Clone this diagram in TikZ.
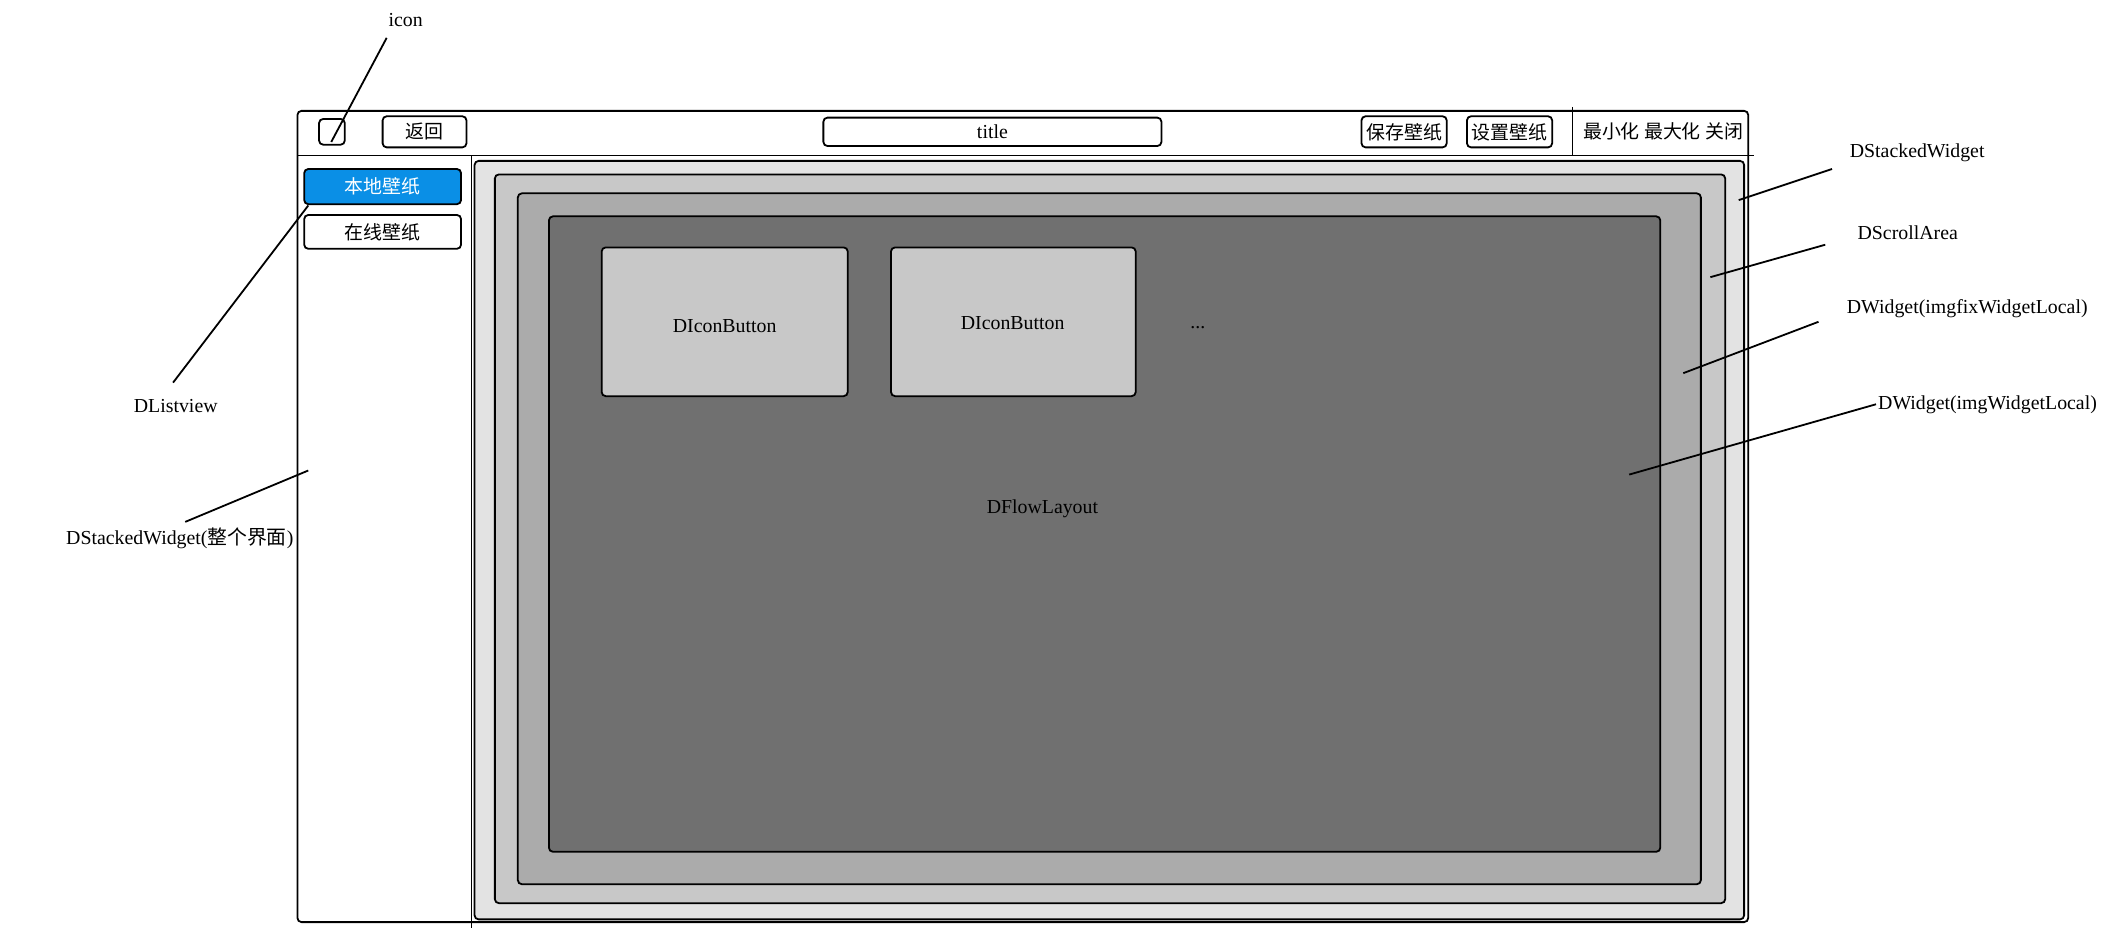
\documentclass[tikz,border=0pt]{standalone}
\usepackage{fontspec}
\setmainfont{Liberation Serif}
\newfontfamily\cjk{Noto Sans CJK SC}
\usetikzlibrary{fit}
\definecolor{bluebtn}{HTML}{0A8FE6}
\definecolor{gA}{HTML}{E3E3E3}
\definecolor{gB}{HTML}{C8C8C8}
\definecolor{gC}{HTML}{ABABAB}
\definecolor{gD}{HTML}{707070}
\begin{document}
\begin{tikzpicture}[x=0.75pt,y=-0.75pt,
  box/.style={draw, line width=1pt, rounded corners=2.25pt, inner sep=0pt},
  lbl/.style={font=\fontsize{11}{13}\selectfont, inner sep=1pt},
  lead/.style={line width=1pt},
  thin/.style={line width=0.6pt},
  cjkt/.style={font=\cjk\fontsize{10.5}{12}\selectfont, inner sep=0pt}]
\useasboundingbox (0,0) rectangle (1568,703);

% main window
\node[box, fill=white, fit={(220,82)(1293,682)}] (win) {};
\coordinate (tbL) at (220,115);
\coordinate (tbR) at (1297,115);
\draw[line width=1pt] (tbL) -- (tbR);
\coordinate (sepT) at (1163,79);
\coordinate (sepB) at (1163,115);
\draw[thin] (sepT) -- (sepB);
\coordinate (sbT) at (349,115);
\coordinate (sbB) at (349,686);
\draw[thin] (sbT) -- (sbB);

% title bar contents
\node[box, fit={(236,88)(255,107)}] (icon) {};
\node[box, fit={(283,86)(345,109)}] (back) {};
\node[cjkt] at (back.center) {返回};
\node[box, fit={(609,87)(859,108)}] (title) {};
\node[lbl] at (title.center) {title};
\node[box, fit={(1007,86)(1070,109)}] (save) {};
\node[cjkt] at (save.center) {保存壁纸};
\node[box, fit={(1085,86)(1148,109)}] (set) {};
\node[cjkt] at (set.center) {设置壁纸};
\node[cjkt] (winbtn) at (1230,97) {最小化 最大化 关闭};

% sidebar
\node[box, fill=bluebtn, fit={(225,125)(341,151)}] (local) {};
\node[cjkt, text=white] at (local.center) {本地壁纸};
\node[box, fill=white, fit={(225,159)(341,184)}] (online) {};
\node[cjkt] at (online.center) {在线壁纸};

% nested widgets
\node[box, fill=gA, fit={(351,119)(1290,680)}] (stack) {};
\node[box, fill=gB, fit={(366,129)(1276,668)}] (scroll) {};
\node[box, fill=gC, fit={(383,143)(1258,654)}] (fixw) {};
\node[box, fill=gD, fit={(406,160)(1228,630)}] (imgw) {};
\node[box, fill=gB, fit={(445,183)(627,293)}] (btn1) {};
\node[lbl] at (536,241) {DIconButton};
\node[box, fill=gB, fit={(659,183)(840,293)}] (btn2) {};
\node[lbl] at (749,239) {DIconButton};
\node[lbl] (dots) at (886,242) {...};
\node[lbl] (flow) at (771,376) {DFlowLayout};

% labels and leaders
\node[lbl] (Licon) at (300,15) {icon};
\coordinate (Aicon1) at (286,28);
\coordinate (Aicon2) at (245,105);
\draw[lead] (Aicon1) -- (Aicon2);

\node[lbl] (Llist) at (130,300) {DListview};
\coordinate (Alist1) at (128,283);
\coordinate (Alist2) at (228,152);
\draw[lead] (Alist1) -- (Alist2);

\node[lbl] (Lwhole) at (133,398) {DStackedWidget(\cjk 整个界面\normalfont)};
\coordinate (Awhole1) at (137,386);
\coordinate (Awhole2) at (228,348);
\draw[lead] (Awhole1) -- (Awhole2);

\node[lbl] (Lstack) at (1418,113) {DStackedWidget};
\coordinate (Astack1) at (1355,125);
\coordinate (Astack2) at (1286,148);
\draw[lead] (Astack1) -- (Astack2);

\node[lbl] (Lscroll) at (1411,172) {DScrollArea};
\coordinate (Ascroll1) at (1350,181);
\coordinate (Ascroll2) at (1265,205);
\draw[lead] (Ascroll1) -- (Ascroll2);

\node[lbl] (Lfix) at (1455,228) {DWidget(imgfixWidgetLocal)};
\coordinate (Afix1) at (1345,238);
\coordinate (Afix2) at (1245,276);
\draw[lead] (Afix1) -- (Afix2);

\node[lbl] (Limg) at (1470,299) {DWidget(imgWidgetLocal)};
\coordinate (Aimg2) at (1205,351);
\draw[lead] (Limg.west) -- (Aimg2);
\end{tikzpicture}
\end{document}
